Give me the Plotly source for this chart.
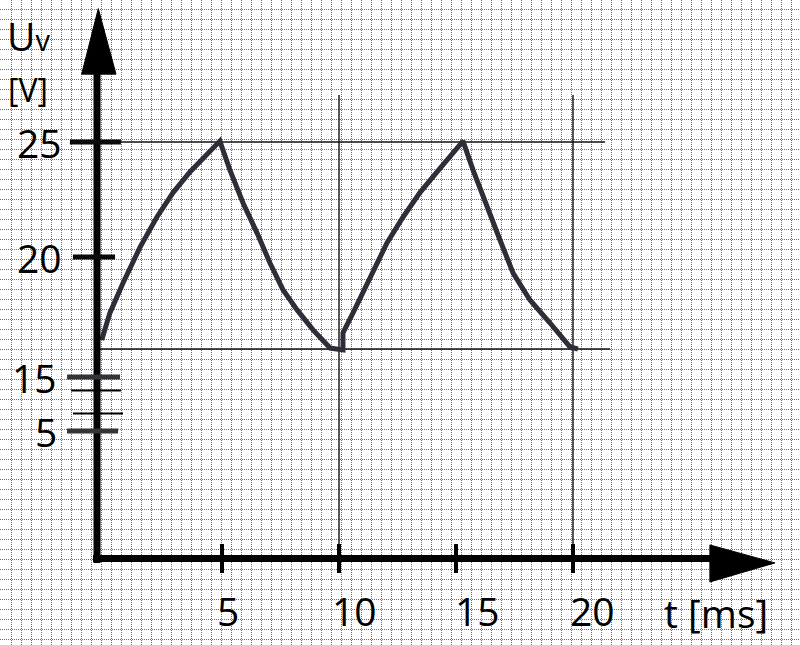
import plotly.graph_objects as go

# ---------------- data ----------------
T_MS = [-0.14, 0.21, 0.77, 1.50, 2.22, 2.91, 3.63, 4.36, 4.91,
        5.34, 5.90, 6.50, 7.05, 7.61, 8.21, 8.89, 9.62, 10.17,
        10.17, 10.60, 11.32, 12.05, 12.74, 13.46, 14.19, 14.74, 15.30,
        15.73, 16.32, 16.88, 17.44, 18.16, 19.02, 19.87, 20.21]
U_V = [16.39, 17.57, 18.87, 20.43, 21.74, 22.80, 23.70, 24.45, 25.04,
       23.78, 22.35, 21.04, 19.74, 18.57, 17.70, 16.83, 16.04, 15.96,
       16.70, 17.57, 19.13, 20.61, 21.74, 22.80, 23.70, 24.40, 25.04,
       23.78, 22.17, 20.74, 19.30, 18.13, 17.13, 16.09, 16.00]

U_MAX = 25
U_MIN = 16
T_MARKS = [10, 20]

X_TICKS = [5, 10, 15, 20]
X_TICK_TEXT = ["5", "10", "15", "20"]
Y_TICK_TEXT = ["25", "20", "15", "5"]
Y_TICK_POS = [25, 20, 14.78, 12.43]   # position on the broken (drawn) scale

# ---------------- scale set-up ----------------
X_RANGE = [-105 / 23.4, 695 / 23.4]
Y_RANGE = [20 - 388 / 23, 20 + 257 / 23]
GRID_DX = 10 / 23.4
GRID_DY = 10 / 23

fig = go.Figure()

INK = "#111111"
CURVE = "#2e2e38"

# reference lines
fig.add_trace(go.Scatter(x=[-0.21, 21.37], y=[U_MAX, U_MAX], mode="lines",
                         line=dict(color=INK, width=1.4), hoverinfo="skip"))
fig.add_trace(go.Scatter(x=[-0.21, 21.58], y=[U_MIN, U_MIN], mode="lines",
                         line=dict(color=INK, width=1.4), hoverinfo="skip"))
for tm in T_MARKS:
    fig.add_trace(go.Scatter(x=[tm, tm], y=[27.04, 6.9], mode="lines",
                             line=dict(color=INK, width=1.4), hoverinfo="skip"))

# waveform
fig.add_trace(go.Scatter(x=T_MS, y=U_V, mode="lines",
                         line=dict(color=CURVE, width=5),
                         hoverinfo="skip"))

shapes = []
# y axis
shapes.append(dict(type="line", xref="x", yref="y", x0=-0.342, x1=-0.342, y0=6.70, y1=28.1,
                   line=dict(color="black", width=7)))
shapes.append(dict(type="path", xref="x", yref="y",
                   path="M -0.286,30.80 L -0.996,27.95 L 0.470,27.95 Z",
                   fillcolor="black", line=dict(color="black", width=1)))
# x axis
shapes.append(dict(type="line", xref="x", yref="y", x0=-0.51, x1=26.0, y0=6.89, y1=6.89,
                   line=dict(color="black", width=7)))
shapes.append(dict(type="path", xref="x", yref="y",
                   path="M 25.85,7.48 L 28.63,6.70 L 25.85,5.87 Z",
                   fillcolor="black", line=dict(color="black", width=1)))
# y tick marks
Y_TICK_X0 = [-1.50, -1.37, -1.62, -1.62]
Y_TICK_X1 = [0.68, 0.43, 0.64, 0.56]
for v, c, a, b in zip(Y_TICK_POS, ["#0a0a0a", "#0a0a0a", "#333338", "#333338"], Y_TICK_X0, Y_TICK_X1):
    shapes.append(dict(type="line", xref="x", yref="y", x0=a, x1=b, y0=v, y1=v,
                       line=dict(color=c, width=5)))
# axis break marks
shapes.append(dict(type="line", xref="x", yref="y", x0=-1.45, x1=0.68, y0=14.20, y1=14.20,
                   line=dict(color="black", width=2)))
shapes.append(dict(type="line", xref="x", yref="y", x0=-1.37, x1=0.77, y0=13.20, y1=13.20,
                   line=dict(color="black", width=2)))
# x tick marks
for t in X_TICKS:
    shapes.append(dict(type="line", xref="x", yref="y", x0=t, x1=t, y0=7.52, y1=6.26,
                       line=dict(color="black", width=4)))

FONT = "Open Sans, Noto Sans, sans-serif"
ann = []
X_LABEL_SHIFT = [6, 15, 21, 19]
for t, txt, sh in zip(X_TICKS, X_TICK_TEXT, X_LABEL_SHIFT):
    ann.append(dict(x=t, y=4.65, xref="x", yref="y", text=txt, showarrow=False,
                    xanchor="center", yanchor="middle", xshift=sh,
                    font=dict(family=FONT, size=39, color="black")))
Y_LABEL_RIGHT = [-1.74, -1.74, -1.96, -1.96]
for v, txt, xr in zip(Y_TICK_POS, Y_TICK_TEXT, Y_LABEL_RIGHT):
    ann.append(dict(x=xr, y=v, xref="x", yref="y", text=txt, showarrow=False,
                    xanchor="right", yanchor="middle",
                    font=dict(family=FONT, size=39, color="black")))
ann.append(dict(x=26.11, y=4.56, xref="x", yref="y", text="t [ms]", showarrow=False,
                xanchor="center", yanchor="middle",
                font=dict(family=FONT, size=39, color="black")))
ann.append(dict(x=-4.28, y=29.61, xref="x", yref="y",
                text="U<span style='font-size:29px'>v</span>", showarrow=False,
                xanchor="left", yanchor="middle",
                font=dict(family=FONT, size=39, color="black")))
ann.append(dict(x=-3.29, y=27.30, xref="x", yref="y", text="[V]", showarrow=False,
                xanchor="center", yanchor="middle",
                font=dict(family=FONT, size=32, color="black")))

fig.update_layout(
    width=800, height=645,
    margin=dict(l=0, r=0, t=0, b=0),
    paper_bgcolor="white", plot_bgcolor="white",
    showlegend=False,
    shapes=shapes,
    annotations=ann,
    xaxis=dict(range=X_RANGE, showgrid=True, gridcolor="#6a6a6a", gridwidth=1,
               griddash="1px,1px", dtick=GRID_DX, tick0=-104 / 23.4, tickmode="linear",
               showticklabels=False, ticks="", zeroline=False, showline=False, fixedrange=True),
    yaxis=dict(range=Y_RANGE, showgrid=True, gridcolor="#6a6a6a", gridwidth=1,
               griddash="1px,1px", dtick=GRID_DY, tick0=20 + 248 / 23, tickmode="linear",
               showticklabels=False, ticks="", zeroline=False, showline=False, fixedrange=True),
)

fig.write_html("out.html", config={"displayModeBar": False},
               post_script="document.body.style.margin='0';document.body.style.overflow='hidden';")
